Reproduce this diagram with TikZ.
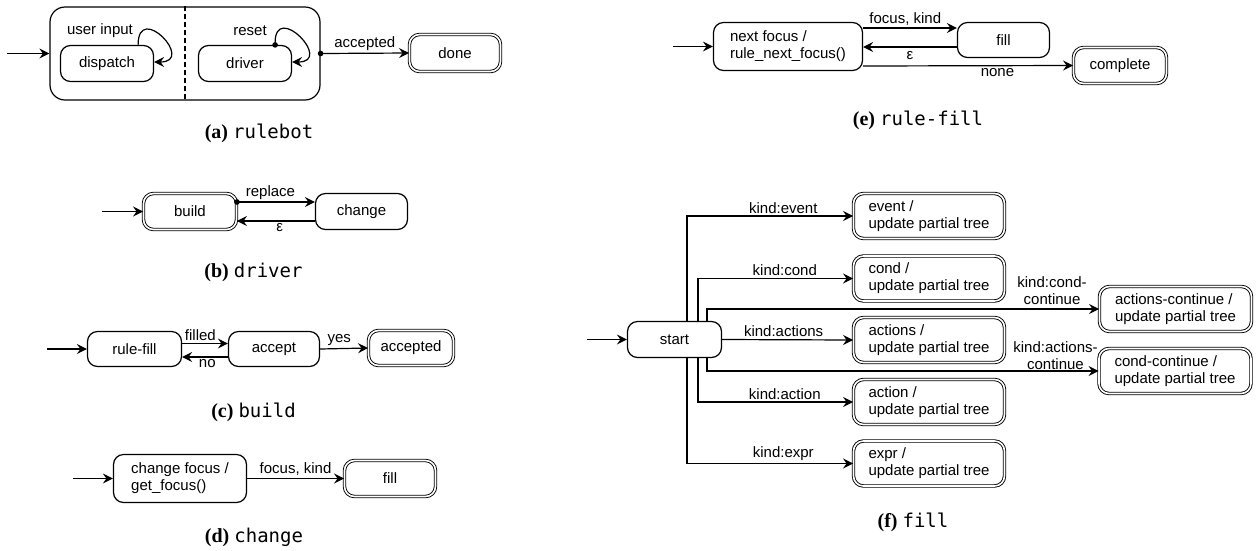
\documentclass[tikz,border=0pt]{standalone}
\usepackage{fontspec}
\newfontfamily\diagfont{Liberation Sans}
\newfontfamily\capmono{DejaVu Sans Mono}
\newfontfamily\capserif{Liberation Serif}
\usetikzlibrary{arrows.meta}
\newcommand{\subcap}[2]{{\capserif\bfseries\fontsize{20}{22}\selectfont(#1)}\hspace{5pt}{\capmono\fontsize{19}{21}\selectfont #2}}
\begin{document}
\begin{tikzpicture}[x=1pt,y=-1pt, line width=1.2pt,
  every node/.style={font=\diagfont\fontsize{15}{17}\selectfont},
  st/.style={draw, rounded corners=10pt, inner sep=0pt, align=center},
  lst/.style={st, align=left},
  fin/.style={st, line width=0.9pt, double, double distance=1.6pt},
  lfin/.style={fin, align=left},
  lbl/.style={inner sep=2pt},
  arr/.style={-{Stealth[length=10pt,width=10pt,inset=3.5pt]}},
  darr/.style={{Circle[length=5.5pt,width=5.5pt]}-{Stealth[length=10pt,width=10pt,inset=3.5pt]}, shorten <=-2.75pt},
  capnode/.style={inner sep=0pt, font=}
]
\useasboundingbox (0,0) rectangle (1259,550);

% ---------- (a) rulebot ----------
\node[draw, rounded corners=15pt, minimum width=270, minimum height=93] (rulebot) at (185,53.5) {};
\draw[dash pattern=on 5pt off 3pt] (rulebot.north) -- (rulebot.south);
\node[st, minimum width=93, minimum height=36] (dispatch) at (107,63.5) {dispatch};
\node[st, minimum width=93, minimum height=36] (driverA) at (245,63.5) {driver};
\node[fin, minimum width=91, minimum height=37] (done) at (455,53) {done};
\coordinate (iaa) at (7,53.5);
\draw[arr] (iaa) -- (rulebot.west);
\draw[arr] ([xshift=-16pt]dispatch.north east) .. controls +(0,-44) and +(42,0) .. ([yshift=1.5pt]dispatch.east);
\node[lbl] (luser) at ([xshift=-7pt,yshift=14pt]dispatch.north) {user input};
\draw[darr] ([xshift=-17pt]driverA.north east) .. controls +(0,-44) and +(42,0) .. ([yshift=1.5pt]driverA.east);
\node[lbl] (lreset) at ([xshift=5pt,yshift=14pt]driverA.north) {reset};
\draw[darr] (rulebot.east) -- node[lbl, above] {accepted} (done.west);
\node[capnode] (capa) at (259,133) {\subcap{a}{rulebot}};

% ---------- (b) driver ----------
\node[fin, minimum width=93, minimum height=36] (build) at (190,211.5) {build};
\node[st, minimum width=92, minimum height=36] (change) at (361.5,211.5) {change};
\coordinate (iab) at (102,211.5);
\draw[arr] (iab) -- (build.west);
\draw[darr] ([yshift=9.5pt]build.east) -- node[lbl, above, pos=.43] {replace} ([yshift=9.5pt]change.west);
\draw[arr] ([yshift=-9.5pt]change.west) -- node[lbl, below, pos=.45] {ε} ([yshift=-9.5pt]build.east);
\node[capnode] (capb) at (253.5,272) {\subcap{b}{driver}};

% ---------- (c) build ----------
\node[st, minimum width=94, minimum height=35] (rulefill) at (134.5,349) {rule-fill};
\node[st, minimum width=91, minimum height=35] (accept) at (274,349) {accept};
\node[fin, minimum width=85, minimum height=35] (acceptedC) at (411,348) {accepted};
\coordinate (iac) at (47,349);
\draw[arr] (iac) -- (rulefill.west);
\draw[arr] ([yshift=5.5pt]rulefill.east) -- node[lbl, above, pos=.4] {filled} ([yshift=5.5pt]accept.west);
\draw[arr] ([yshift=-8pt]accept.west) -- node[lbl, below, pos=.45] {no} ([yshift=-8pt]rulefill.east);
\draw[arr] (accept.east) -- node[lbl, above, pos=.4] {yes} (acceptedC.west);
\node[capnode] (capc) at (253.5,412) {\subcap{c}{build}};

% ---------- (d) change ----------
\node[lst, minimum width=133, minimum height=48] (chfocus) at (180,478.5) {change focus /\\get\_focus()};
\node[fin, minimum width=91, minimum height=36] (fillD) at (390,478.5) {fill};
\coordinate (iad) at (73,478.5);
\draw[arr] (iad) -- (chfocus.west);
\draw[arr] (chfocus.east) -- node[lbl, above] {focus, kind} (fillD.west);
\node[capnode] (capd) at (254,537) {\subcap{d}{change}};

% ---------- (e) rule-fill ----------
\node[lst, minimum width=149, minimum height=48] (nextfocus) at (788,46.5) {next focus /\\rule\_next\_focus()};
\node[st, minimum width=92, minimum height=35] (fillE) at (1003.5,40) {fill};
\node[fin, minimum width=93, minimum height=36] (complete) at (1120,65.5) {complete};
\coordinate (iae) at (673,46.5);
\draw[arr] (iae) -- (nextfocus.west);
\draw[arr] ([yshift=18.5pt]nextfocus.east) -- node[lbl, above, pos=.45] {focus, kind} ([yshift=12pt]fillE.west);
\draw[arr] ([yshift=-7pt]fillE.west) -- node[lbl, below, pos=.5, yshift=-2pt] {ε} ([yshift=-0.5pt]nextfocus.east);
\draw[arr] ([yshift=-19.5pt]nextfocus.east) -- node[lbl, below, pos=.64] {none} (complete.west);
\node[capnode] (cape) at (918,120) {\subcap{e}{rule-fill}};

% ---------- (f) fill ----------
\node[st, minimum width=94, minimum height=36] (start) at (674.5,339.5) {start};
\node[lfin, minimum width=151, minimum height=45] (event) at (929,216) {event /\\update partial tree};
\node[lfin, minimum width=151, minimum height=45] (cond) at (929,278.5) {cond /\\update partial tree};
\node[lfin, minimum width=151, minimum height=45] (actions) at (929,340) {actions /\\update partial tree};
\node[lfin, minimum width=151, minimum height=45] (action) at (929,402) {action /\\update partial tree};
\node[lfin, minimum width=151, minimum height=45] (expr) at (929,463.5) {expr /\\update partial tree};
\node[lfin, minimum width=152, minimum height=45] (acont) at (1175.5,309) {actions-continue /\\update partial tree};
\node[lfin, minimum width=152, minimum height=45] (ccont) at (1175,371) {cond-continue /\\update partial tree};
\coordinate (iaf) at (587,339.5);
\draw[arr] (iaf) -- (start.west);
\draw[arr] ([xshift=12.5pt]start.north) |- node[lbl, above, pos=.79] {kind:event} (event.west);
\draw[arr] ([xshift=23.5pt]start.north) |- node[lbl, above, pos=.78] {kind:cond} (cond.west);
\draw[arr] ([xshift=32.5pt]start.north) |- node[lbl, above, pos=.94, align=center, inner sep=1pt, yshift=3pt] {kind:cond-\\continue} (acont.west);
\draw[arr] (start.east) -- node[lbl, above, pos=.47] {kind:actions} (actions.west);
\draw[arr] ([xshift=32.5pt]start.south) |- node[lbl, above, pos=.945, align=center, inner sep=1pt] {kind:actions-\\continue} (ccont.west);
\draw[arr] ([xshift=23.5pt]start.south) |- node[lbl, above, pos=.78] {kind:action} (action.west);
\draw[arr] ([xshift=12.5pt]start.south) |- node[lbl, above, pos=.79] {kind:expr} (expr.west);
\node[capnode] (capf) at (913,522) {\subcap{f}{fill}};
\end{tikzpicture}
\end{document}
